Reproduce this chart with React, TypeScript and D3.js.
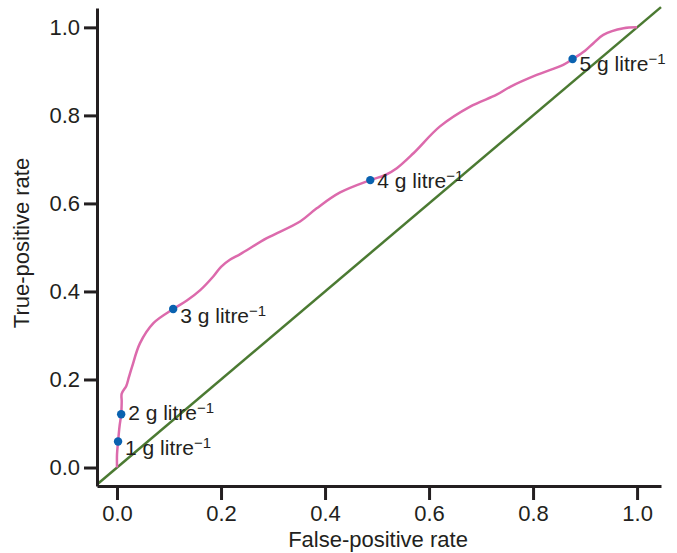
import React, { useEffect, useRef } from 'react';
import * as d3 from 'd3';

// ROC curve
const fpr = [0, 0, 0.002, 0.005, 0.008, 0.009, 0.009, 0.018, 0.023, 0.029, 0.044, 0.07, 0.108, 0.135, 0.16, 0.185, 0.2, 0.217, 0.237, 0.288, 0.352, 0.384, 0.429, 0.487, 0.515, 0.538, 0.57, 0.621, 0.679, 0.73, 0.756, 0.807, 0.858, 0.876, 0.9, 0.916, 0.935, 0.974, 1.0];
const tpr = [0, 0.03, 0.059, 0.095, 0.121, 0.15, 0.168, 0.186, 0.206, 0.229, 0.282, 0.328, 0.36, 0.38, 0.403, 0.434, 0.456, 0.472, 0.485, 0.521, 0.559, 0.589, 0.625, 0.653, 0.664, 0.68, 0.714, 0.775, 0.82, 0.847, 0.865, 0.892, 0.915, 0.928, 0.947, 0.964, 0.983, 0.998, 1.0];

// cut-off points
const cutLabels = ['1 g litre', '2 g litre', '3 g litre', '4 g litre', '5 g litre'];
const cutX = [0.002, 0.008, 0.108, 0.487, 0.876];
const cutY = [0.059, 0.121, 0.36, 0.653, 0.928];
const labelDy = [13, 6, 14, 8, 12];

const ticks = [0, 0.2, 0.4, 0.6, 0.8, 1.0];

const W = 677;
const H = 553;

const App = () => {
  const ref = useRef(null);

  useEffect(() => {
    if (!ref.current) return;
    d3.select(ref.current).selectAll('*').remove();
    const svg = d3.select(ref.current);

    const x = d3.scaleLinear().domain([-0.0385, 1.046]).range([97, 661]);
    const y = d3.scaleLinear().domain([-0.042, 1.044]).range([486, 8]);

    const ink = '#231f20';
    const font = 'Arial, "Liberation Sans", Helvetica, sans-serif';

    // diagonal reference line
    svg.append('line')
      .attr('x1', x(-0.0385)).attr('y1', y(-0.0385))
      .attr('x2', x(1.046)).attr('y2', y(1.046))
      .attr('stroke', '#4b7a32')
      .attr('stroke-width', 2.5);

    const pts = fpr.map((d, i) => [d, tpr[i]]);
    const line = d3.line()
      .x(d => x(d[0]))
      .y(d => y(d[1]))
      .curve(d3.curveCatmullRom.alpha(0.5));

    svg.append('path')
      .attr('d', line(pts))
      .attr('fill', 'none')
      .attr('stroke', '#dc6aac')
      .attr('stroke-width', 2.5);

    const xAxis = d3.axisBottom(x)
      .tickValues(ticks)
      .tickFormat(d3.format('.1f'))
      .tickSize(14)
      .tickSizeOuter(0)
      .tickPadding(5);

    const yAxis = d3.axisLeft(y)
      .tickValues(ticks)
      .tickFormat(d3.format('.1f'))
      .tickSize(13)
      .tickSizeOuter(0)
      .tickPadding(4);

    const gx = svg.append('g').attr('transform', 'translate(0,486)').call(xAxis);
    const gy = svg.append('g').attr('transform', 'translate(97,0)').call(yAxis);

    [gx, gy].forEach(g => {
      g.select('.domain').attr('stroke', ink).attr('stroke-width', 3);
      g.selectAll('.tick line').attr('stroke', ink).attr('stroke-width', 3);
      g.selectAll('.tick text')
        .attr('fill', ink)
        .style('font-family', font)
        .style('font-size', '22px');
    });

    // dots + labels
    cutLabels.forEach((lab, i) => {
      svg.append('circle')
        .attr('cx', x(cutX[i]))
        .attr('cy', y(cutY[i]))
        .attr('r', 4.2)
        .attr('fill', '#0a62b0');

      const t = svg.append('text')
        .attr('x', x(cutX[i]) + 7)
        .attr('y', y(cutY[i]) + labelDy[i])
        .attr('fill', ink)
        .style('font-family', font)
        .style('font-size', '21px');
      t.append('tspan').text(lab);
      t.append('tspan')
        .attr('dy', -7)
        .style('font-size', '15px')
        .text('\u22121');
    });

    svg.append('text')
      .attr('x', 378)
      .attr('y', 547)
      .attr('text-anchor', 'middle')
      .attr('fill', ink)
      .style('font-family', font)
      .style('font-size', '22px')
      .text('False-positive rate');

    svg.append('text')
      .attr('transform', 'translate(29,243) rotate(-90)')
      .attr('text-anchor', 'middle')
      .attr('fill', ink)
      .style('font-family', font)
      .style('font-size', '22px')
      .text('True-positive rate');
  }, []);

  return (
    <svg
      ref={ref}
      width={W}
      height={H}
      style={{ position: 'absolute', left: 0, top: 0, background: '#fff' }}
    />
  );
};

export default App;
